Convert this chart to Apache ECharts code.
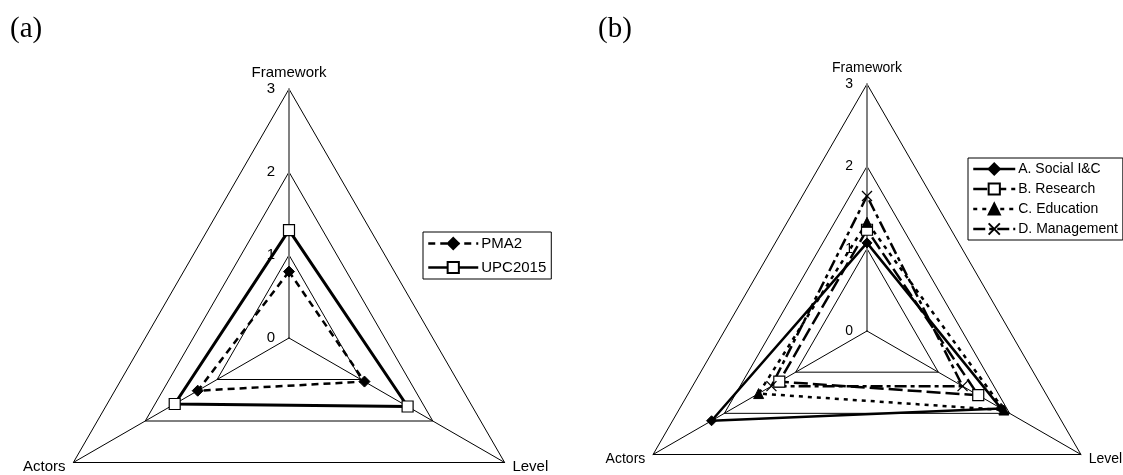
<!DOCTYPE html>
<html>
<head>
<meta charset="utf-8">
<script src="https://cdn.jsdelivr.net/npm/echarts@6/dist/echarts.min.js"></script>
<style>
html,body{margin:0;padding:0;background:#fff;}
#chart{width:1123px;height:475px;}
</style>
</head>
<body>
<div id="chart"></div>
<script>
// Axes (indicator order: top, bottom-left, bottom-right)
const indicatorNames = ['Framework', 'Actors', 'Level'];
const axisMax = 3;

// Panel (a)
const seriesNamesA = ['PMA2', 'UPC2015'];
const pma2 = [0.80, 1.27, 1.05];
const upc2015 = [1.30, 1.59, 1.65];

// Panel (b)
const seriesNamesB = ['A. Social I&C', 'B. Research', 'C. Education', 'D. Management'];
const socialIC = [1.07, 2.18, 1.88];
const research = [1.23, 1.23, 1.56];
const education = [1.32, 1.52, 1.92];
const management = [1.64, 1.34, 1.34];

const FONT = 'Liberation Sans';
const crossPath = 'path://M0,0L10,10M10,0L0,10';

const styles = {
  'PMA2': {symbol: 'diamond', symbolSize: 11, item: {color: '#000', borderColor: '#000', borderWidth: 1}, line: {color: '#000', width: 2.5, type: [7, 5]}},
  'UPC2015': {symbol: 'rect', symbolSize: 11, item: {color: '#fff', borderColor: '#000', borderWidth: 1.2}, line: {color: '#000', width: 3, type: 'solid'}},
  'A. Social I&C': {symbol: 'diamond', symbolSize: 10, item: {color: '#000', borderColor: '#000', borderWidth: 1}, line: {color: '#000', width: 2.5, type: 'solid'}},
  'B. Research': {symbol: 'rect', symbolSize: 11, item: {color: '#fff', borderColor: '#000', borderWidth: 1.2}, line: {color: '#000', width: 2.5, type: [14, 5]}},
  'C. Education': {symbol: 'triangle', symbolSize: 10, item: {color: '#000', borderColor: '#000', borderWidth: 1}, line: {color: '#000', width: 2.5, type: [4, 5]}},
  'D. Management': {symbol: crossPath, symbolSize: 10, item: {color: '#000', borderColor: '#000', borderWidth: 1.3}, line: {color: '#000', width: 2.5, type: [12, 4, 4, 4]}}
};

function makeRadar(center, radius, fontSize) {
  return {
    center: center,
    radius: radius,
    startAngle: 90,
    shape: 'polygon',
    splitNumber: 3,
    nameGap: 9,
    axisName: {color: '#000', fontFamily: FONT, fontSize: fontSize},
    splitLine: {lineStyle: {color: '#000', width: 1}},
    splitArea: {show: false},
    axisLine: {lineStyle: {color: '#000', width: 1}},
    axisTick: {show: false},
    axisLabel: {show: false},
    indicator: indicatorNames.map(function (n, i) {
      const ind = {name: n, min: 0, max: axisMax};
      if (i === 0) {
        ind.axisLabel = {show: true, color: '#000', fontFamily: FONT, fontSize: fontSize, margin: 14};
        ind.axisLine = {lineStyle: {color: '#808080', width: 2}};
      }
      return ind;
    })
  };
}

function radarSeries(name, values, radarIndex) {
  const s = styles[name];
  return {
    type: 'radar', name: name, radarIndex: radarIndex,
    symbol: s.symbol, symbolSize: s.symbolSize,
    itemStyle: s.item, lineStyle: s.line,
    z: 3,
    data: [{value: values, name: name}]
  };
}

// Empty line series only supply line+marker legend icons
function legendProxy(name) {
  const s = styles[name];
  return {
    type: 'line', name: name, data: [],
    symbol: s.symbol, symbolSize: s.symbolSize,
    itemStyle: s.item, lineStyle: s.line
  };
}

function makeLegend(names, left, top, itemWidth, itemGap, fontSize) {
  return {
    data: names,
    orient: 'vertical',
    left: left, top: top,
    itemWidth: itemWidth, itemHeight: 14, itemGap: itemGap,
    padding: [4, 5, 4, 4],
    borderColor: '#000', borderWidth: 1,
    selectedMode: false,
    textStyle: {color: '#000', fontFamily: FONT, fontSize: fontSize, padding: [0, 0, 0, -2]},
    lineStyle: {width: 2.5}
  };
}

const chart = echarts.init(document.getElementById('chart'), null, {renderer: 'canvas'});
chart.setOption({
  backgroundColor: '#fff',
  animation: false,
  title: [
    {text: '(a)', left: 5, top: 10, textStyle: {fontFamily: 'Liberation Serif', fontSize: 29, fontWeight: 'normal', color: '#000'}},
    {text: '(b)', left: 593, top: 10, textStyle: {fontFamily: 'Liberation Serif', fontSize: 29, fontWeight: 'normal', color: '#000'}}
  ],
  grid: {show: false, left: 0, top: 0, width: 1, height: 1},
  xAxis: {show: false, type: 'value'},
  yAxis: {show: false, type: 'value'},
  radar: [makeRadar([289, 338], 249, 15), makeRadar([867, 331], 247, 14)],
  legend: [
    makeLegend(seriesNamesA, 423, 232, 50, 9, 15),
    makeLegend(seriesNamesB, 968, 158, 42, 6, 14)
  ],
  series: [].concat(
    seriesNamesA.map(legendProxy),
    seriesNamesB.map(legendProxy),
    [
      radarSeries('PMA2', pma2, 0),
      radarSeries('UPC2015', upc2015, 0),
      radarSeries('A. Social I&C', socialIC, 1),
      radarSeries('B. Research', research, 1),
      radarSeries('C. Education', education, 1),
      radarSeries('D. Management', management, 1)
    ]
  )
});
</script>
</body>
</html>
